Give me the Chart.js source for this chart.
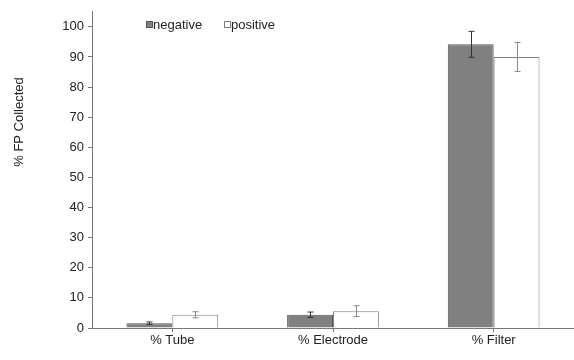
<!DOCTYPE html>
<html>
<head>
<meta charset="utf-8">
<script src="https://cdn.jsdelivr.net/npm/chart.js@4/dist/chart.umd.min.js"></script>
<style>
  html, body { margin: 0; padding: 0; background: #fff; }
  #wrap { width: 574px; height: 360px; position: relative; }
</style>
</head>
<body>
<div id="wrap"><canvas id="chart"></canvas></div>
<script>
// data
const categories = ['% Tube', '% Electrode', '% Filter'];
const negativeVals = [1.6, 4.4, 94.2];
const negativeErr = [0.4, 0.9, 4.3];
const positiveVals = [4.4, 5.6, 90.0];
const positiveErr = [1.0, 1.8, 4.8];

const FONT = '"Liberation Sans", Arial, sans-serif';

// error bars drawn from the scales
const errorBars = {
    id: 'errorBars',
    afterDatasetsDraw(chart) {
        const ctx = chart.ctx;
        const y = chart.scales.y;
        chart.data.datasets.forEach((ds, i) => {
            const meta = chart.getDatasetMeta(i);
            meta.data.forEach((bar, j) => {
                const v = ds.data[j], e = ds.errors[j];
                const top = y.getPixelForValue(v + e);
                const bot = y.getPixelForValue(v - e);
                const x = Math.round(bar.x) + 0.5;
                ctx.save();
                ctx.strokeStyle = ds.errorColor;
                ctx.lineWidth = 1;
                ctx.beginPath();
                ctx.moveTo(x, top); ctx.lineTo(x, bot);
                ctx.moveTo(x - 3, top); ctx.lineTo(x + 3, top);
                ctx.moveTo(x - 3, bot); ctx.lineTo(x + 3, bot);
                ctx.stroke();
                ctx.restore();
            });
        });
    }
};

// legend inside the plot and y axis title
const extras = {
    id: 'extras',
    afterDraw(chart) {
        const ctx = chart.ctx;
        ctx.save();
        ctx.font = '13px ' + FONT;
        ctx.textBaseline = 'middle';
        ctx.lineWidth = 1;
        // negative
        ctx.fillStyle = '#808080';
        ctx.fillRect(146.5, 21.5, 6, 6);
        ctx.strokeStyle = '#555';
        ctx.strokeRect(146.5, 21.5, 6, 6);
        ctx.fillStyle = '#222';
        ctx.fillText('negative', 153, 25);
        // positive
        ctx.fillStyle = '#fff';
        ctx.fillRect(224.5, 21.5, 6, 6);
        ctx.strokeStyle = '#808080';
        ctx.strokeRect(224.5, 21.5, 6, 6);
        ctx.fillStyle = '#222';
        ctx.fillText('positive', 231, 25);
        // y title
        ctx.translate(19, 122);
        ctx.rotate(-Math.PI / 2);
        ctx.textAlign = 'center';
        ctx.fillText('% FP Collected', 0, 0);
        ctx.restore();
    }
};

new Chart(document.getElementById('chart'), {
    type: 'bar',
    data: {
        labels: categories,
        datasets: [
            {
                label: 'negative',
                data: negativeVals,
                errors: negativeErr,
                errorColor: '#333',
                backgroundColor: '#808080',
                borderColor: '#555',
                borderWidth: 1,
                categoryPercentage: 0.571,
                barPercentage: 1
            },
            {
                label: 'positive',
                data: positiveVals,
                errors: positiveErr,
                errorColor: '#888',
                backgroundColor: '#fff',
                borderColor: '#808080',
                borderWidth: 1,
                categoryPercentage: 0.571,
                barPercentage: 1
            }
        ]
    },
    options: {
        responsive: true,
        maintainAspectRatio: false,
        animation: false,
        layout: { padding: { left: 32, top: 3, right: 0, bottom: 0 } },
        plugins: {
            legend: { display: false },
            tooltip: { enabled: false }
        },
        scales: {
            x: {
                grid: { display: true, drawOnChartArea: false, offset: false, tickLength: 4, color: '#777' },
                border: { color: '#777' },
                ticks: { color: '#222', font: { family: FONT, size: 13 }, padding: 1 },
                afterFit: s => { s.height = 32; }
            },
            y: {
                min: 0,
                max: 105,
                grid: { display: true, drawOnChartArea: false, tickLength: 4, color: '#777' },
                border: { color: '#777' },
                ticks: {
                    stepSize: 5,
                    color: '#222',
                    font: { family: FONT, size: 13 },
                    padding: 4,
                    callback: v => (v % 10 === 0 ? v : '')
                },
                afterFit: s => { s.width = 60; }
            }
        }
    },
    plugins: [errorBars, extras]
});
</script>
</body>
</html>
